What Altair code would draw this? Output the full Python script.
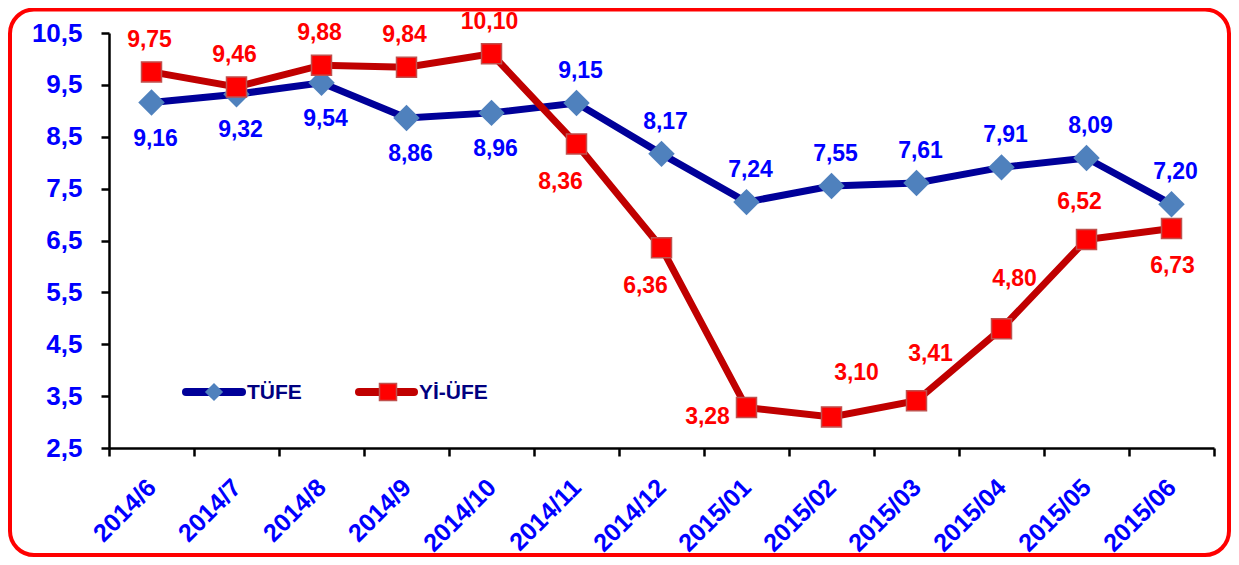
import altair as alt
import pandas as pd

months = ["2014/6", "2014/7", "2014/8", "2014/9", "2014/10", "2014/11", "2014/12",
          "2015/01", "2015/02", "2015/03", "2015/04", "2015/05", "2015/06"]
tufe = [9.16, 9.32, 9.54, 8.86, 8.96, 9.15, 8.17, 7.24, 7.55, 7.61, 7.91, 8.09, 7.20]
yiufe = [9.75, 9.46, 9.88, 9.84, 10.10, 8.36, 6.36, 3.28, 3.10, 3.41, 4.80, 6.52, 6.73]
series_names = ["TÜFE", "Yİ-ÜFE"]
y_ticks = [2.5, 3.5, 4.5, 5.5, 6.5, 7.5, 8.5, 9.5, 10.5]

rows = []
for name, vals in zip(series_names, [tufe, yiufe]):
    for m, v in zip(months, vals):
        rows.append({"month": m, "series": name, "value": v,
                     "label": f"{v:.2f}".replace(".", ",")})
df = pd.DataFrame(rows)
legend_df = pd.DataFrame({"series": series_names})

FONT = "Liberation Sans"
NAVY = "#000099"
DIAMOND = "#4F81BD"
DARKRED = "#C00000"
RED = "#FF0000"
BLUE = "#0000FF"

W, H = 1105, 415

x_enc = alt.X("month:N", sort=months,
              scale=alt.Scale(type="band", paddingInner=0, paddingOuter=0),
              axis=alt.Axis(title=None, labelAngle=315, labelAlign="right",
                            labelBaseline="middle", labelFontSize=25,
                            labelFont=FONT, labelFontWeight="bold",
                            labelColor=BLUE, labelPadding=27, labelOverlap=False,
                            tickBand="extent", tickSize=8, tickWidth=2.5,
                            tickColor="black", domainColor="black",
                            domainWidth=2.5, grid=False))
y_enc = alt.Y("value:Q",
              scale=alt.Scale(domain=[2.5, 10.5], nice=False, zero=False),
              axis=alt.Axis(title=None, values=y_ticks,
                            labelExpr="replace(format(datum.value, '.1f'), '.', ',')",
                            labelFontSize=26, labelFont=FONT,
                            labelFontWeight="bold", labelColor=BLUE,
                            labelPadding=19, tickSize=8, tickWidth=2.5,
                            tickColor="black", domainColor="black",
                            domainWidth=2.5, grid=False))

base = alt.Chart(df).encode(x=x_enc, y=y_enc)


def only(series):
    return alt.FieldOneOfPredicate(field="series", oneOf=[series])


line_t = base.transform_filter(only("TÜFE")).mark_line(color=NAVY, strokeWidth=7)
pts_t = base.transform_filter(only("TÜFE")).mark_point(
    shape="diamond", size=700, filled=True, fill=DIAMOND, opacity=1,
    strokeWidth=0)
line_y = base.transform_filter(only("Yİ-ÜFE")).mark_line(color=DARKRED, strokeWidth=7)
pts_y = base.transform_filter(only("Yİ-ÜFE")).mark_point(
    shape="square", size=400, filled=True, fill=RED, opacity=1,
    stroke="#C0504D", strokeWidth=1.5)


def labels(series, sel, dx, dy, color):
    return base.transform_filter(only(series)).transform_filter(
        alt.FieldOneOfPredicate(field="month", oneOf=sel)
    ).mark_text(dx=dx, dy=dy, fontSize=23, fontWeight="bold", font=FONT,
                color=color, align="center", baseline="middle").encode(
        text="label:N")


label_layers = [
    labels("TÜFE", months[:5], 4, 36, BLUE),
    labels("TÜFE", months[5:], 4, -32, BLUE),
    labels("Yİ-ÜFE", months[:5], -2, -32, RED),
    labels("Yİ-ÜFE", ["2014/11", "2014/12"], -16, 38, RED),
    labels("Yİ-ÜFE", ["2015/01"], -39, 9, RED),
    labels("Yİ-ÜFE", ["2015/02"], 25, -44, RED),
    labels("Yİ-ÜFE", ["2015/03"], 14, -47, RED),
    labels("Yİ-ÜFE", ["2015/04"], 13, -50, RED),
    labels("Yİ-ÜFE", ["2015/05"], -7, -37, RED),
    labels("Yİ-ÜFE", ["2015/06"], 1, 37, RED),
]

# custom legend inside plot
leg = alt.Chart(legend_df)
leg_t_line = leg.transform_filter(only("TÜFE")).mark_rule(
    color=NAVY, strokeWidth=8, strokeCap="round").encode(
    x=alt.value(77), x2=alt.value(133), y=alt.value(359))
leg_t_pt = leg.transform_filter(only("TÜFE")).mark_point(
    shape="diamond", size=330, filled=True, fill=DIAMOND, opacity=1,
    strokeWidth=0).encode(x=alt.value(105), y=alt.value(359))
leg_t_txt = leg.transform_filter(only("TÜFE")).mark_text(
    align="left", baseline="middle", fontSize=21, fontWeight="bold",
    font=FONT, color="#000080").encode(
    x=alt.value(138), y=alt.value(360), text="series:N")
leg_y_line = leg.transform_filter(only("Yİ-ÜFE")).mark_rule(
    color=DARKRED, strokeWidth=8, strokeCap="round").encode(
    x=alt.value(250), x2=alt.value(305), y=alt.value(359))
leg_y_pt = leg.transform_filter(only("Yİ-ÜFE")).mark_point(
    shape="square", size=290, filled=True, fill=RED, opacity=1,
    stroke="#C0504D", strokeWidth=1.5).encode(x=alt.value(279), y=alt.value(359))
leg_y_txt = leg.transform_filter(only("Yİ-ÜFE")).mark_text(
    align="left", baseline="middle", fontSize=21, fontWeight="bold",
    font=FONT, color="#000080").encode(
    x=alt.value(310), y=alt.value(360), text="series:N")

# rounded red frame around the whole chart
frame = leg.transform_filter(only("TÜFE")).mark_rect(
    filled=False, stroke=RED, strokeWidth=4, cornerRadius=24).encode(
    x=alt.value(-99), x2=alt.value(W + 15), y=alt.value(-23.5), y2=alt.value(H + 107))

chart = alt.layer(
    frame, line_t, pts_t, line_y, pts_y, *label_layers,
    leg_t_line, leg_t_pt, leg_t_txt, leg_y_line, leg_y_pt, leg_y_txt
).properties(
    width=W, height=H,
    autosize=alt.AutoSizeParams(type="none"),
    padding={"left": 101, "top": 25, "right": 17, "bottom": 109},
    background="white",
).configure_view(stroke=None)

chart.save("out.html", embed_options={"renderer": "svg", "actions": False})
